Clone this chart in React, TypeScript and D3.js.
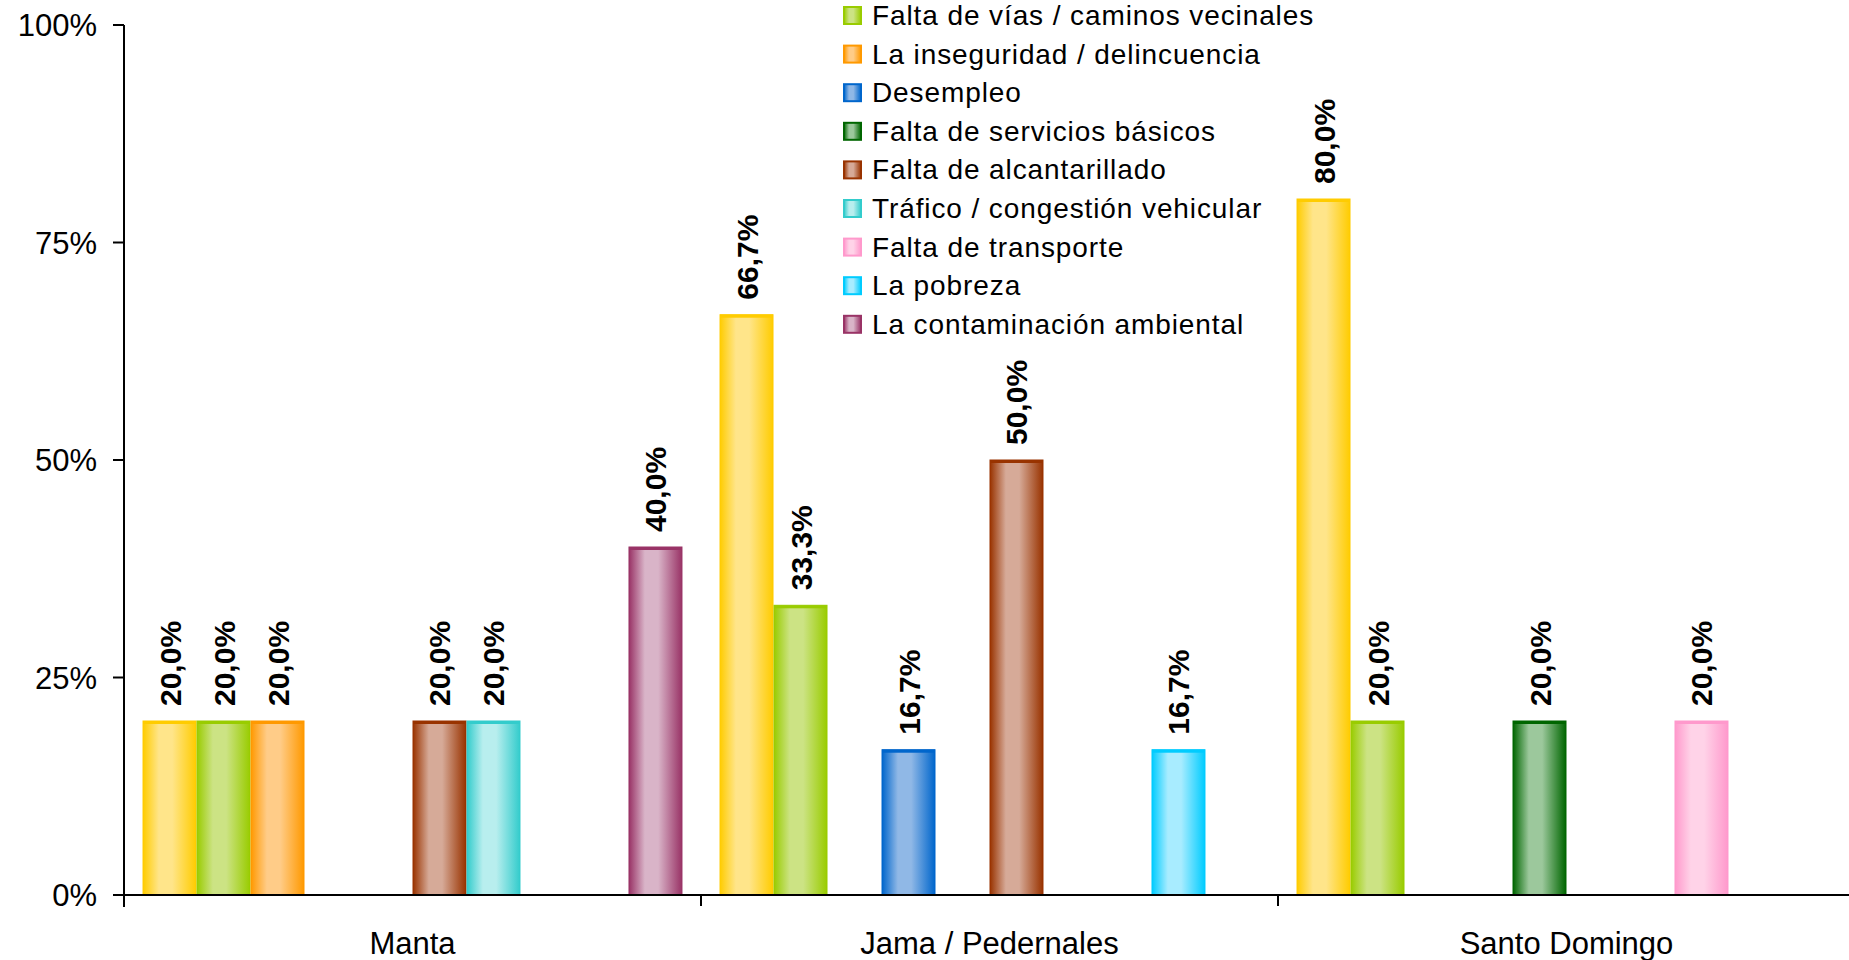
import React from "react";
import * as d3 from "d3";

const categories = ["Manta", "Jama / Pedernales", "Santo Domingo"];
const seriesNames = [
  "Otros problemas",
  "Falta de vías / caminos vecinales",
  "La inseguridad / delincuencia",
  "Desempleo",
  "Falta de servicios básicos",
  "Falta de alcantarillado",
  "Tráfico / congestión vehicular",
  "Falta de transporte",
  "La pobreza",
  "La contaminación ambiental",
];
// values per category, one entry per series
const mantaValues = [20, 20, 20, 0, 0, 20, 20, 0, 0, 40];
const jamaValues = [66.7, 33.3, 0, 16.7, 0, 50, 0, 0, 16.7, 0];
const santoValues = [80, 20, 0, 0, 20, 0, 0, 20, 0, 0];
const categoryValues = [mantaValues, jamaValues, santoValues];
const yTicks = [0, 25, 50, 75, 100];

const edgeColors = ["#FFCC00", "#99CC00", "#FF9900", "#0066CC", "#006600", "#993300", "#33CCCC", "#FF99CC", "#00CCFF", "#993366"];
const lightColors = ["#FFE58A", "#CCE384", "#FFCC88", "#90B8E6", "#9CC89C", "#D6AA98", "#B8EEEE", "#FFD3E8", "#A8ECFF", "#D9B4C8"];

const FONT = "'Liberation Sans', Arial, Helvetica, sans-serif";

export default function App() {
  const left = 124;
  const bottom = 895;
  const top = 25;
  const catW = 577;
  const x0 = d3.scaleBand<string>().domain(categories).range([left, left + catW * categories.length]).paddingInner(0).paddingOuter(0);
  const x1 = d3.scaleBand<number>().domain(d3.range(seriesNames.length)).range([0, x0.bandwidth()]).paddingInner(0).paddingOuter(0.343);
  const y = d3.scaleLinear().domain([0, 100]).range([bottom, top]);

  if (typeof document !== "undefined") {
    document.body.style.margin = "0";
  }

  const fmt = (v: number) => v.toFixed(1).replace(".", ",") + "%";

  const legendX = 843;
  const legendY0 = 15;
  const legendStep = 38.6;

  return (
    <svg width={1849} height={960} style={{ position: "fixed", left: 0, top: 0, background: "#fff" }} fontFamily={FONT}>
      <defs>
        {edgeColors.map((c, i) => (
          <linearGradient key={i} id={`g${i}`} x1="0" x2="1" y1="0" y2="0">
            <stop offset="0" stopColor={c} />
            <stop offset="0.3" stopColor={lightColors[i]} />
            <stop offset="0.55" stopColor={lightColors[i]} />
            <stop offset="1" stopColor={c} />
          </linearGradient>
        ))}
      </defs>

      {/* bars */}
      {categories.map((cat, ci) =>
        categoryValues[ci].map((v, si) => {
          if (!v) return null;
          const bx = (x0(cat) as number) + (x1(si) as number);
          const bw = x1.bandwidth();
          const by = y(v);
          const bh = bottom - by;
          return (
            <g key={`${ci}-${si}`}>
              <rect x={bx + 0.5} y={by} width={bw - 1} height={bh} fill={`url(#g${si})`} stroke={edgeColors[si]} strokeWidth={1} />
              <rect x={bx + 0.5} y={by} width={bw - 1} height={3} fill={edgeColors[si]} />
              <text
                transform={`translate(${bx + bw / 2 + 11},${by - 15}) rotate(-90)`}
                fontSize={30}
                fontWeight="bold"
                fill="#000"
              >
                {fmt(v)}
              </text>
            </g>
          );
        })
      )}

      {/* axes */}
      <line x1={left} x2={left} y1={top} y2={bottom + 12} stroke="#000" strokeWidth={2} />
      <line x1={left - 11} x2={1849} y1={bottom} y2={bottom} stroke="#000" strokeWidth={2} />
      {yTicks.map((t) => (
        <g key={t}>
          <line x1={left - 11} x2={left} y1={y(t)} y2={y(t)} stroke="#000" strokeWidth={2} />
          <text x={97} y={y(t) + 11} textAnchor="end" fontSize={31} fill="#000">
            {t}%
          </text>
        </g>
      ))}
      {categories.map((cat, ci) => (
        <g key={cat}>
          {ci > 0 && <line x1={x0(cat)} x2={x0(cat)} y1={bottom} y2={bottom + 11} stroke="#000" strokeWidth={2} />}
          <text x={(x0(cat) as number) + x0.bandwidth() / 2} y={954} textAnchor="middle" fontSize={31} fill="#000">
            {cat}
          </text>
        </g>
      ))}

      {/* legend (first entry lies above the visible area) */}
      {seriesNames.map((name, i) => {
        const cy = legendY0 + (i - 1) * legendStep;
        if (cy < 0) return null;
        return (
          <g key={name}>
            <rect x={legendX + 1} y={cy - 8} width={17} height={17} fill={`url(#g${i})`} stroke={edgeColors[i]} strokeWidth={2} />
            <text x={872} y={cy + 10} fontSize={28} letterSpacing={0.9} fill="#000">
              {name}
            </text>
          </g>
        );
      })}
    </svg>
  );
}
